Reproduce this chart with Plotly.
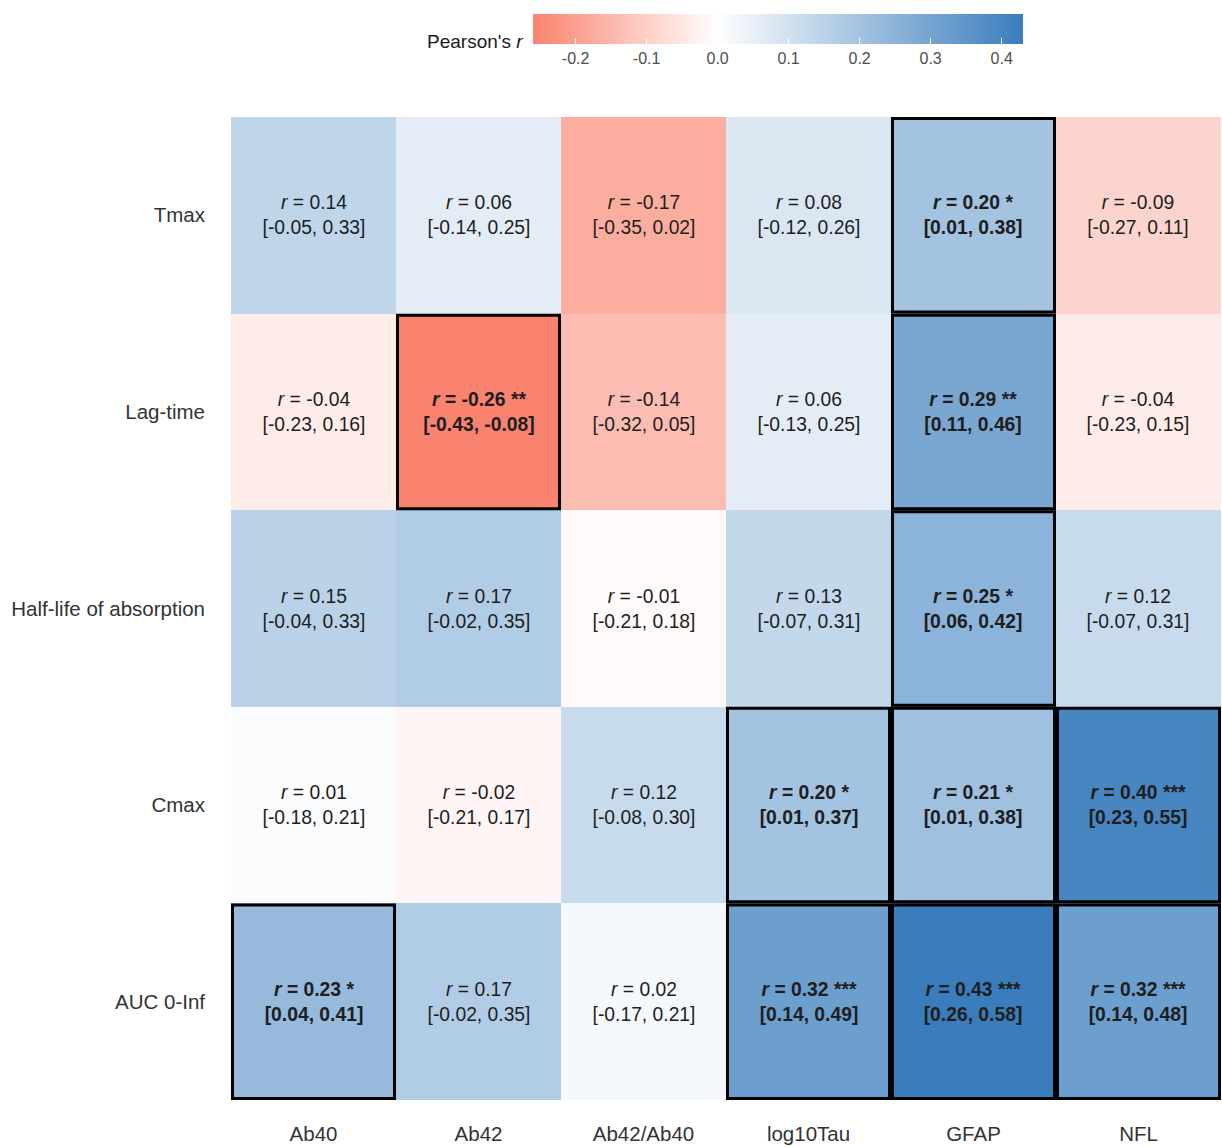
import plotly.graph_objects as go

# Correlations between PK parameters (rows) and plasma biomarkers (columns)
rows = ["Tmax", "Lag-time", "Half-life of absorption", "Cmax", "AUC 0-Inf"]
cols = ["Ab40", "Ab42", "Ab42/Ab40", "log10Tau", "GFAP", "NFL"]

r_vals = [
    [0.14, 0.06, -0.17, 0.08, 0.20, -0.09],
    [-0.04, -0.26, -0.14, 0.06, 0.29, -0.04],
    [0.15, 0.17, -0.01, 0.13, 0.25, 0.12],
    [0.01, -0.02, 0.12, 0.20, 0.21, 0.40],
    [0.23, 0.17, 0.02, 0.32, 0.43, 0.32],
]
ci_low = [
    [-0.05, -0.14, -0.35, -0.12, 0.01, -0.27],
    [-0.23, -0.43, -0.32, -0.13, 0.11, -0.23],
    [-0.04, -0.02, -0.21, -0.07, 0.06, -0.07],
    [-0.18, -0.21, -0.08, 0.01, 0.01, 0.23],
    [0.04, -0.02, -0.17, 0.14, 0.26, 0.14],
]
ci_high = [
    [0.33, 0.25, 0.02, 0.26, 0.38, 0.11],
    [0.16, -0.08, 0.05, 0.25, 0.46, 0.15],
    [0.33, 0.35, 0.18, 0.31, 0.42, 0.31],
    [0.21, 0.17, 0.30, 0.37, 0.38, 0.55],
    [0.41, 0.35, 0.21, 0.49, 0.58, 0.48],
]
stars = [
    ["", "", "", "", "*", ""],
    ["", "**", "", "", "**", ""],
    ["", "", "", "", "*", ""],
    ["", "", "", "*", "*", "***"],
    ["*", "", "", "***", "***", "***"],
]
cbar_ticks = [-0.2, -0.1, 0.0, 0.1, 0.2, 0.3, 0.4]

FONT = "Liberation Sans, Arial, sans-serif"
zmin, zmax = -0.26, 0.43

# Diverging scale: salmon -> white at r = 0 -> blue
mid = (0 - zmin) / (zmax - zmin)
colorscale = [[0.0, "#F9836E"], [mid, "#FFFFFF"], [1.0, "#3A7DBD"]]


def fmt(v):
    return f"{v:.2f}"


labels = []
for i in range(len(rows)):
    line = []
    for j in range(len(cols)):
        s = stars[i][j]
        head = f"<i>r</i> = {fmt(r_vals[i][j])}" + (f" {s}" if s else "")
        tail = f"[{fmt(ci_low[i][j])}, {fmt(ci_high[i][j])}]"
        txt = f"{head}<br>{tail}"
        if s:
            txt = f"<b>{txt}</b>"
        line.append(txt)
    labels.append(line)

fig = go.Figure(
    go.Heatmap(
        z=r_vals,
        x=cols,
        y=rows,
        text=labels,
        texttemplate="%{text}",
        textfont=dict(family=FONT, size=19.3, color="#1E1E1E"),
        colorscale=colorscale,
        zmin=zmin,
        zmax=zmax,
        hoverinfo="skip",
        colorbar=dict(
            orientation="h",
            x=0.5525,
            xanchor="center",
            y=1.1048,
            yanchor="top",
            len=490,
            lenmode="pixels",
            thickness=30,
            xpad=0,
            ypad=0,
            outlinewidth=0,
            tickvals=cbar_ticks,
            ticktext=[f"{t:.1f}" for t in cbar_ticks],
            ticks="inside",
            ticklen=6,
            tickcolor="white",
            tickfont=dict(family=FONT, size=16, color="#4D4D4D"),
        ),
    )
)

# Outline the significant cells
dx, dy = 0.009, 0.008
for i in range(len(rows)):
    for j in range(len(cols)):
        if stars[i][j]:
            fig.add_shape(
                type="rect",
                xref="x",
                yref="y",
                x0=j - 0.5 + dx,
                x1=j + 0.5 - dx,
                y0=i - 0.5 + dy,
                y1=i + 0.5 - dy,
                line=dict(color="black", width=3),
                fillcolor="rgba(0,0,0,0)",
                layer="above",
            )

fig.add_annotation(
    text="Pearson's <i>r</i>",
    xref="paper",
    yref="paper",
    x=0.297,
    y=1.0763,
    xanchor="right",
    yanchor="middle",
    showarrow=False,
    font=dict(family=FONT, size=19, color="#1A1A1A"),
)

fig.update_xaxes(
    automargin=False,
    showgrid=False,
    zeroline=False,
    showline=False,
    ticks="",
    ticklabelstandoff=19,
    tickfont=dict(family=FONT, size=20.5, color="#333333"),
)
fig.update_yaxes(
    automargin=False,
    autorange="reversed",
    showgrid=False,
    zeroline=False,
    showline=False,
    ticks="",
    ticklabelstandoff=25,
    tickfont=dict(family=FONT, size=20.5, color="#333333"),
)

fig.update_layout(
    width=1222,
    height=1147,
    margin=dict(l=231, r=1, t=117, b=47),
    paper_bgcolor="white",
    plot_bgcolor="white",
)

fig.write_html("out.html")
